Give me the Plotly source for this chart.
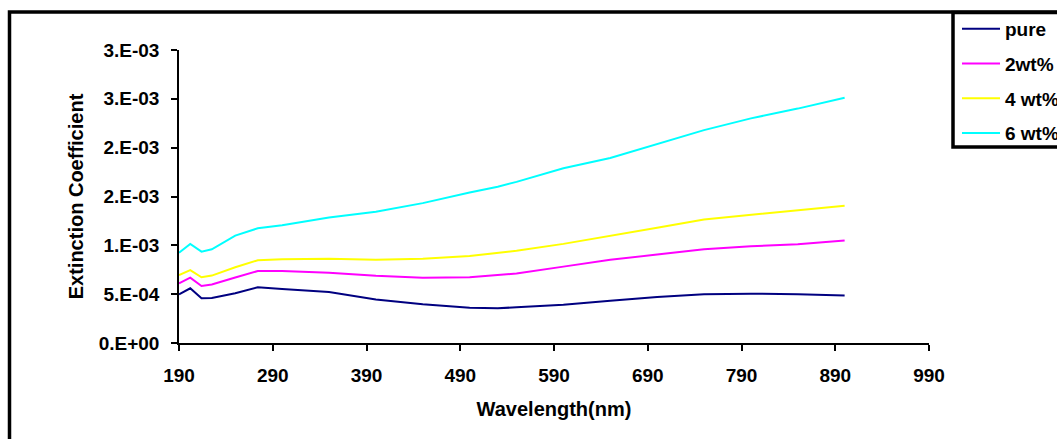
import plotly.graph_objects as go

wavelength = [190, 202, 214, 225, 250, 274, 300, 350, 400, 450, 500, 530, 550,
              600, 650, 700, 750, 800, 850, 900]

pure = [0.000497, 0.000560, 0.000458, 0.000460, 0.000510, 0.000570, 0.000552,
        0.000522, 0.000445, 0.000396, 0.000362, 0.000355, 0.000366, 0.000392,
        0.000432, 0.000470, 0.000500, 0.000505, 0.000500, 0.000486]

wt2 = [0.000611, 0.000669, 0.000584, 0.000600, 0.000670, 0.000737, 0.000737,
       0.000720, 0.000688, 0.000668, 0.000674, 0.000694, 0.000712, 0.000782,
       0.000852, 0.000905, 0.000960, 0.000990, 0.001012, 0.001050]

wt4 = [0.000696, 0.000747, 0.000673, 0.000690, 0.000775, 0.000847, 0.000858,
       0.000862, 0.000852, 0.000862, 0.000890, 0.000920, 0.000945, 0.001015,
       0.001095, 0.001180, 0.001265, 0.001310, 0.001360, 0.001406]

wt6 = [0.000925, 0.001014, 0.000935, 0.000960, 0.001100, 0.001174, 0.001205,
       0.001285, 0.001345, 0.001432, 0.001540, 0.001600, 0.001650, 0.001790,
       0.001895, 0.002040, 0.002180, 0.002300, 0.002400, 0.002512]

series_names = ["pure", "2wt%", "4 wt%", "6 wt%"]
series_values = [pure, wt2, wt4, wt6]
series_colors = ["#000080", "#FF00FF", "#FFFF00", "#00FFFF"]

x_ticks = [190, 290, 390, 490, 590, 690, 790, 890, 990]
y_ticks = [0, 0.0005, 0.001, 0.0015, 0.002, 0.0025, 0.003]
y_ticktext = ["0.E+00", "5.E-04", "1.E-03", "2.E-03", "2.E-03", "3.E-03", "3.E-03"]

FONT = "Liberation Sans, Arial, sans-serif"

fig = go.Figure()
for name, vals, col in zip(series_names, series_values, series_colors):
    fig.add_trace(go.Scatter(x=wavelength, y=vals, mode="lines", name=name,
                             legendgroup=name,
                             line=dict(color=col, width=2)))

W, H = 1057, 439
L, R, T, B = 179, 929, 50, 343


def px_x(p):
    return (p - L) / (R - L)


def px_y(p):
    return (B - p) / (B - T)


fig.update_layout(
    width=W, height=H,
    margin=dict(l=L, r=W - R, t=T, b=H - B, autoexpand=False),
    paper_bgcolor="white", plot_bgcolor="white",
    font=dict(family=FONT, size=19, color="black"),
    showlegend=True,
    legend=dict(x=px_x(957), y=px_y(10), xanchor="left", yanchor="top",
                bgcolor="rgba(0,0,0,0)", borderwidth=0, itemwidth=38,
                font=dict(family=FONT, size=19, color="black", weight="bold"),
                tracegroupgap=7, traceorder="grouped"),
    xaxis=dict(range=[190, 990], tickvals=x_ticks, ticktext=[str(v) for v in x_ticks],
               showgrid=False, zeroline=False, showline=True, linecolor="black",
               linewidth=1.5, ticks="outside", ticklen=6, tickwidth=1.5,
               tickcolor="black", ticklabelstandoff=8,
               tickfont=dict(family=FONT, size=19, weight="bold"),
               title=dict(text="Wavelength(nm)", standoff=17,
                          font=dict(family=FONT, size=20, weight="bold"))),
    yaxis=dict(range=[0, 0.003], tickvals=y_ticks, ticktext=y_ticktext,
               showgrid=False, zeroline=False, showline=True, linecolor="black",
               linewidth=1.5, ticks="outside", ticklen=6, tickwidth=1.5,
               tickcolor="black", ticklabelstandoff=8,
               tickfont=dict(family=FONT, size=19, weight="bold"),
               title=dict(text="Extinction Coefficient", standoff=10,
                          font=dict(family=FONT, size=20, weight="bold"))),
    shapes=[
        dict(type="rect", xref="paper", yref="paper",
             x0=px_x(9.5), x1=px_x(1070), y0=px_y(460), y1=px_y(12),
             line=dict(color="black", width=3.5), fillcolor="rgba(0,0,0,0)",
             layer="below"),
        dict(type="rect", xref="paper", yref="paper",
             x0=px_x(953), x1=px_x(1070), y0=px_y(147), y1=px_y(12.5),
             line=dict(color="black", width=3.5), fillcolor="white",
             layer="below"),
    ],
)

fig.write_html("out.html")
